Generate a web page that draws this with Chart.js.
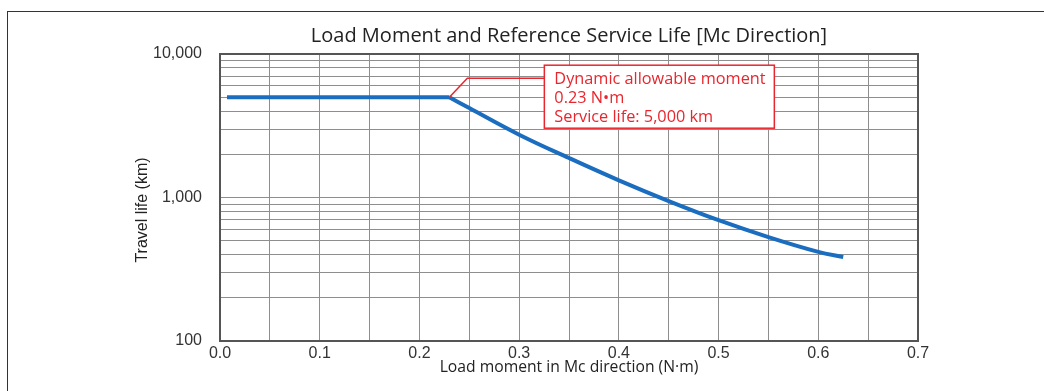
<!DOCTYPE html>
<html>
<head>
<meta charset="utf-8">
<script src="https://cdn.jsdelivr.net/npm/chart.js@4.4.1/dist/chart.umd.min.js"></script>
<style>
  body { margin: 0; background: #fff; }
  #wrap { position: relative; width: 1044px; height: 391px; overflow: hidden; }
  #frame { position: absolute; left: 7px; top: 11px; width: 1100px; height: 450px; border-left: 1.5px solid #333; border-top: 1.5px solid #333; }
  canvas { position: absolute; left: 0; top: 0; }
</style>
</head>
<body>
<div id="wrap">
  <div id="frame"></div>
  <canvas id="lifeChart" width="1044" height="391"></canvas>
</div>
<script>
// Mc direction: load moment (N·m) against travel life (km)
const moments    = [0.007, 0.23, 0.25, 0.30, 0.35, 0.40, 0.45, 0.50, 0.55, 0.60, 0.625];
const travelLife = [5000,  5000, 4200, 2740, 1885, 1318, 945,  695,  530,  418,  385];

// rated point shown in the callout (the corner of the curve)
const ratedMoment = 0.23;
const ratedLife = 5000;

const xTickLabels = ['0.0', '0.1', '0.2', '0.3', '0.4', '0.5', '0.6', '0.7'];
const yGridValues = [100, 200, 300, 400, 500, 600, 700, 800, 900,
                     1000, 2000, 3000, 4000, 5000, 6000, 7000, 8000, 9000, 10000];
const yTickLabels = { 100: '100', 1000: '1,000', 10000: '10,000' };

const RED = '#e8262d';
const BLUE = '#1a6dbf';
const tickFont = { family: "'Liberation Sans', Arial, sans-serif", size: 16 };

const points = moments.map((m, i) => ({ x: m, y: travelLife[i] }));
const corner = moments.indexOf(ratedMoment);

// callout box, plot frame and the y axis title
const calloutPlugin = {
  id: 'callout',
  beforeDatasetsDraw(chart) {
    const { ctx, chartArea: a } = chart;
    ctx.save();
    ctx.strokeStyle = '#555';
    ctx.lineWidth = 2;
    ctx.strokeRect(a.left, a.top, a.right - a.left, a.bottom - a.top);
    ctx.restore();
  },
  afterDatasetsDraw(chart) {
    const { ctx, chartArea: a, scales: { x, y } } = chart;
    const px = x.getPixelForValue(ratedMoment);
    const py = y.getPixelForValue(ratedLife);

    ctx.save();
    ctx.strokeStyle = RED;
    ctx.lineWidth = 1.5;
    ctx.beginPath();
    ctx.moveTo(px, py);
    ctx.lineTo(px + 18, py - 19);
    ctx.lineTo(px + 95, py - 19);
    ctx.stroke();

    const bx = px + 95, by = py - 32, bw = 230, bh = 63;
    ctx.fillStyle = '#fff';
    ctx.fillRect(bx, by, bw, bh);
    ctx.strokeRect(bx, by, bw, bh);

    ctx.fillStyle = RED;
    ctx.font = "16.3px 'Open Sans', sans-serif";
    ctx.textBaseline = 'middle';
    ctx.fillText('Dynamic allowable moment', bx + 10, py - 18);
    ctx.fillText(ratedMoment.toFixed(2) + ' N\u2022m', bx + 10, py + 1);
    ctx.fillText('Service life: ' + ratedLife.toLocaleString('en-US') + ' km', bx + 10, py + 20);

    // y axis title
    ctx.fillStyle = '#222';
    ctx.font = "16px 'Liberation Sans', Arial, sans-serif";
    ctx.textAlign = 'center';
    ctx.translate(a.left - 77, 210);
    ctx.rotate(-Math.PI / 2);
    ctx.fillText('Travel life (km)', 0, 0);
    ctx.restore();
  }
};

new Chart(document.getElementById('lifeChart').getContext('2d'), {
  type: 'line',
  data: {
    datasets: [
      // flat part up to the rated moment
      { data: points.slice(0, corner + 1), borderColor: BLUE, borderWidth: 4, pointRadius: 0, tension: 0 },
      // falling part beyond it
      { data: points.slice(corner), borderColor: BLUE, borderWidth: 4, pointRadius: 0, tension: 0.4 }
    ]
  },
  options: {
    responsive: false,
    animation: false,
    layout: { padding: { left: 0, right: 126, top: 0, bottom: 10 } },
    plugins: {
      legend: { display: false },
      tooltip: { enabled: false },
      title: {
        display: true,
        fullSize: false,
        text: 'Load Moment and Reference Service Life [Mc Direction]',
        color: '#222',
        font: { family: "'Open Sans', sans-serif", size: 20, weight: 'normal' },
        padding: { top: 24, bottom: 6 }
      }
    },
    scales: {
      x: {
        type: 'linear',
        min: 0,
        max: 0.7,
        afterFit: s => { s.height = 40; },
        border: { display: false },
        grid: { color: '#8e8e8e', lineWidth: 1, drawTicks: false },
        ticks: {
          stepSize: 0.05,
          autoSkip: false,
          maxRotation: 0,
          padding: 3,
          color: '#333',
          font: tickFont,
          callback: (v, i) => (i % 2 === 0 ? xTickLabels[i / 2] : '')
        },
        title: {
          display: true,
          text: 'Load moment in Mc direction (N\u00b7m)',
          color: '#222',
          font: { family: "'Open Sans', sans-serif", size: 15.7 },
          padding: { top: 4, bottom: 4 }
        }
      },
      y: {
        type: 'logarithmic',
        min: 100,
        max: 10000,
        afterFit: s => { s.width = 220; },
        afterBuildTicks: s => { s.ticks = yGridValues.map(v => ({ value: v })); },
        border: { display: false },
        grid: { color: '#8e8e8e', lineWidth: 1, drawTicks: false },
        ticks: {
          autoSkip: false,
          padding: 18,
          color: '#333',
          font: tickFont,
          callback: v => yTickLabels[v] || ''
        }
      }
    }
  },
  plugins: [calloutPlugin]
});
</script>
</body>
</html>
